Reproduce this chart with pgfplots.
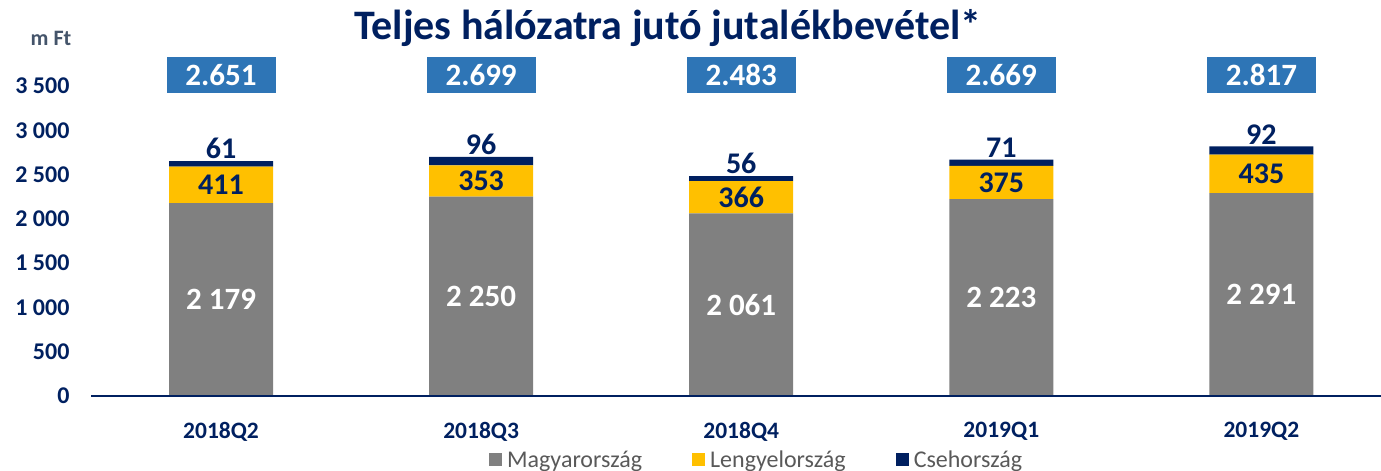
\documentclass[border=0pt]{standalone}
\usepackage{fontspec}
\setmainfont{Carlito}
\usepackage{pgfplots}
\usepackage{pgfplotstable}
\pgfplotsset{compat=1.18}

\definecolor{navy}{HTML}{002060}
\definecolor{mgray}{HTML}{808080}
\definecolor{lyellow}{HTML}{FFC000}
\definecolor{boxblue}{HTML}{2E75B6}
\definecolor{legtext}{HTML}{595959}
\definecolor{unitgray}{HTML}{44546A}

\tikzset{
    lblM/.style={font=\bfseries\fontsize{31pt}{31pt}\selectfont, text=white},
    lblL/.style={font=\bfseries\fontsize{30pt}{30pt}\selectfont, text=navy},
    lblC/.style={font=\bfseries\fontsize{30pt}{30pt}\selectfont, text=navy, anchor=south, inner sep=2pt},
    lblT/.style={font=\bfseries\fontsize{31pt}{31pt}\selectfont, text=white, fill=boxblue,
        minimum width=109pt, minimum height=36pt, inner sep=0pt},
}

% m Ft, negyedéves adatok
\pgfplotstableread{
x M L C T
0 2179 411 61 2651
1 2250 353 96 2699
2 2061 366 56 2483
3 2223 375 71 2669
4 2291 435 92 2817
}\datatable

\begin{document}
\begin{tikzpicture}
\begin{axis}[
    set layers=standard,
    scale only axis,
    width=1290pt, height=310pt,
    xmin=-0.5, xmax=4.46,
    ymin=0, ymax=3500,
    ybar stacked,
    bar width=104pt,
    clip=false,
    axis x line*=bottom,
    axis y line*=left,
    y axis line style={draw=none},
    x axis line style={navy, line width=1.2pt},
    ytick={0,500,...,3500},
    ytick style={draw=none},
    yticklabel style={font=\bfseries\fontsize{24pt}{24pt}\selectfont, text=navy, xshift=-18pt},
    xtick={0,1,2,3,4},
    xticklabels={2018Q2,2018Q3,2018Q4,2019Q1,2019Q2},
    xtick style={draw=none},
    xticklabel style={font=\bfseries\fontsize{23.5pt}{23.5pt}\selectfont, text=navy, yshift=-23pt},
    extra x ticks={-0.5,0.5,1.5,2.5,3.5},
    extra x tick labels={},
    extra x tick style={tick align=outside, major tick length=7pt,
        tick style={draw=navy, line width=1pt}},
    legend columns=3,
    legend style={at={(0.516,-0.206)}, anchor=center, draw=none, fill=none,
        font=\fontsize{24pt}{24pt}\selectfont, text=legtext,
        /tikz/every odd column/.append style={column sep=3pt},
        /tikz/every even column/.append style={column sep=48pt}},
    legend image code/.code={\fill[#1] (0pt,-6.5pt) rectangle (13pt,6.5pt);},
    /pgf/number format/assume math mode=true,
    /pgf/number format/1000 sep={\ },
]
\addplot[fill=mgray, draw=none, on layer=axis background] table[x=x, y=M] {\datatable};
\addlegendentry{Magyarország}
\addplot[fill=lyellow, draw=none, on layer=axis background] table[x=x, y=L] {\datatable};
\addlegendentry{Lengyelország}
\addplot[fill=navy, draw=none, on layer=axis background] table[x=x, y=C] {\datatable};
\addlegendentry{Csehország}

\pgfplotsforeachungrouped \i in {0,...,4}{
    \pgfplotstablegetelem{\i}{M}\of\datatable \let\vM\pgfplotsretval
    \pgfplotstablegetelem{\i}{L}\of\datatable \let\vL\pgfplotsretval
    \pgfplotstablegetelem{\i}{C}\of\datatable \let\vC\pgfplotsretval
    \pgfplotstablegetelem{\i}{T}\of\datatable \let\vT\pgfplotsretval
    \pgfmathsetmacro\yM{\vM/2}
    \pgfmathsetmacro\yL{\vM+\vL/2}
    \pgfmathsetmacro\yC{\vM+\vL+\vC}
    \edef\temp{%
        \noexpand\node[lblM] at (axis cs:\i,\yM) {\noexpand\pgfmathprintnumber{\vM}};
        \noexpand\node[lblL] at (axis cs:\i,\yL) {\vL};
        \noexpand\node[lblC] at (axis cs:\i,\yC) {\vC};
        \noexpand\node[lblT] at (axis cs:\i,3623) {\noexpand\pgfmathprintnumber[1000 sep={.}]{\vT}};
    }\temp
}
\end{axis}
\node[font=\bfseries\fontsize{22pt}{22pt}\selectfont, text=unitgray] at (-40pt,358pt) {m Ft};
\node[anchor=base, font=\bfseries\fontsize{42pt}{42pt}\selectfont, text=navy] at (577pt,356pt)
    {Teljes hálózatra jutó jutalékbevétel*};
\pgfresetboundingbox
\path[use as bounding box] (-91pt,-75pt) rectangle (1290pt,396pt);
\end{tikzpicture}
\end{document}
